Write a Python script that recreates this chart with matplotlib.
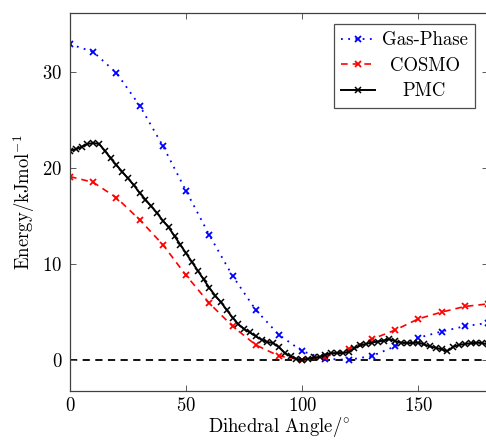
import numpy as np
import matplotlib
matplotlib.use("Agg")
import matplotlib.pyplot as plt

plt.rcParams["font.family"] = "serif"
plt.rcParams["font.serif"] = ["cmr10", "DejaVu Serif"]
plt.rcParams["mathtext.fontset"] = "cm"
plt.rcParams["axes.formatter.use_mathtext"] = True
plt.rcParams["font.size"] = 13.5

# --- data ---
angle_10 = np.arange(0, 181, 10)
gas_phase = [32.9, 32.1, 29.9, 26.5, 22.3, 17.6, 13.0, 8.75, 5.2, 2.6,
             0.9, 0.1, 0.0, 0.4, 1.4, 2.3, 2.95, 3.5, 3.85]
cosmo = [19.1, 18.5, 16.9, 14.6, 12.0, 8.8, 5.9, 3.5, 1.55, 0.4,
         0.0, 0.3, 1.15, 2.15, 3.1, 4.27, 4.97, 5.56, 5.83]

angle_pmc = np.arange(0, 180.1, 2.5)
pmc = [21.8, 21.95, 22.2, 22.5, 22.6, 22.5, 21.8, 21.0, 20.3, 19.6,
       18.9, 18.2, 17.4, 16.7, 16.0, 15.3, 14.5, 13.8, 12.9, 12.0,
       11.1, 10.2, 9.3, 8.4, 7.5, 6.7, 6.0, 5.2, 4.4, 3.7,
       3.2, 2.85, 2.45, 2.1, 1.85, 1.75, 1.3, 0.7, 0.35, 0.1,
       0.0, 0.1, 0.25, 0.3, 0.55, 0.7, 0.7, 0.7, 0.8, 1.2,
       1.5, 1.65, 1.8, 1.9, 2.0, 2.15, 1.95, 1.8, 1.75, 1.75,
       1.8, 1.6, 1.4, 1.25, 1.1, 0.9, 1.35, 1.55, 1.65, 1.72,
       1.78, 1.75, 1.6]

labels = ["Gas-Phase", "COSMO", "PMC"]

fig = plt.figure(figsize=(4.86, 4.40), dpi=100)
ax = fig.add_axes([70/486, 49/440, 418/486, 378/440])

ax.axhline(0, color="black", ls=(0, (4, 3)), lw=1.3, zorder=1)
ax.plot(angle_10, gas_phase, color="blue", ls=(0, (1, 3)), lw=1.3,
        marker="x", ms=5, mew=1.3, label=labels[0])
ax.plot(angle_10, cosmo, color="red", ls=(0, (4, 3)), lw=1.2,
        marker="x", ms=5, mew=1.3, label=labels[1])
ax.plot(angle_pmc, pmc, color="black", ls="-", lw=1.4,
        marker="x", ms=5, mew=1.1, label=labels[2])

ax.set_xlim(0, 180)
ax.set_ylim(-3.25, 36.15)
ax.set_xticks([0, 50, 100, 150])
ax.set_yticks([0, 10, 20, 30])
ax.tick_params(direction="in", length=4.5, width=0.7, top=True, right=True,
               color="0.35")
ax.tick_params(axis="x", pad=4.5)
ax.tick_params(axis="y", pad=5.5)
for s in ax.spines.values():
    s.set_color("0.25")
    s.set_linewidth(0.9)

ax.set_xlabel(r"Dihedral Angle/$^{\circ}$", labelpad=0)
ax.set_ylabel(r"Energy/kJmol$^{-1}$", labelpad=4)

leg = ax.legend(loc="upper right", bbox_to_anchor=(0.969, 0.971),
                borderaxespad=0, fancybox=False, edgecolor="0.3",
                framealpha=1, handlelength=1.8, handletextpad=0.35,
                labelspacing=0.4, borderpad=0.4, numpoints=1,
                markerscale=0.8)
leg.get_frame().set_linewidth(0.9)

# centre the legend labels inside their column, like pgfplots does
fig.canvas.draw()
exts = [t.get_window_extent() for t in leg.get_texts()]
col_x0 = min(e.x0 for e in exts)
col_w = max(e.width for e in exts)
for t, e in zip(leg.get_texts(), exts):
    t.set_alpha(0)
    fig.text((col_x0 + col_w / 2) / fig.bbox.width, e.y0 / fig.bbox.height,
             t.get_text(), ha="center", va="bottom", zorder=10)

fig.savefig("out.png", dpi=100)
